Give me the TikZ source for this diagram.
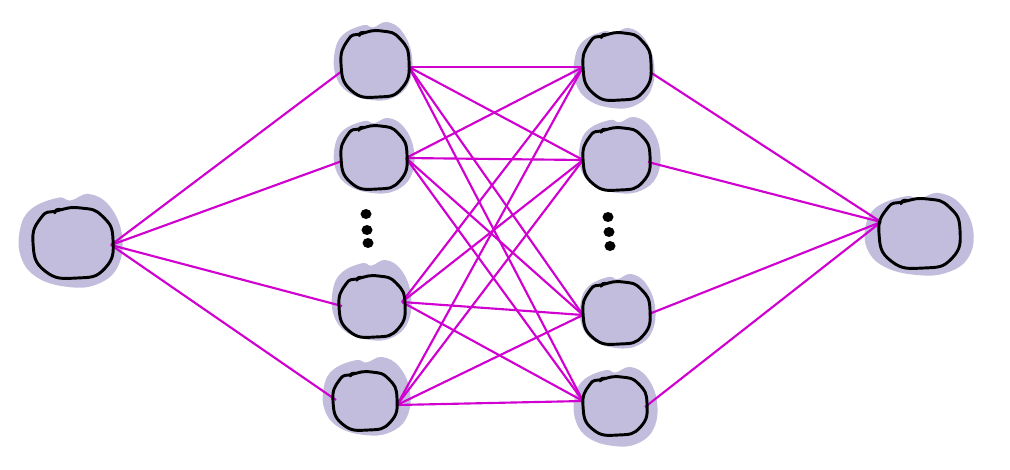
\documentclass[tikz,border=0pt]{standalone}
\definecolor{lav}{RGB}{194,189,220}
\definecolor{wire}{RGB}{208,0,208}
% soft lavender blob behind a neuron: x, y, width, height (pixels, y down)
\newcommand{\cellfill}[4]{%
  \begin{scope}[shift={(#1,#2)},xscale=#3,yscale=#4]
    \fill[lav] plot[smooth cycle,tension=0.7] coordinates
      {(0.12,0.16) (0.38,0.04) (0.5,0.07) (0.68,0.0) (0.88,0.13) (1.0,0.44)
       (0.96,0.78) (0.76,0.97) (0.48,1.0) (0.18,0.9) (0.02,0.68) (0.01,0.38)};
  \end{scope}}
% hand-drawn black rim of a neuron: x, y, width, height
\newcommand{\cellrim}[4]{%
  \begin{scope}[shift={(#1,#2)},xscale=#3,yscale=#4]
    \draw[rim] plot[smooth cycle,tension=0.9] coordinates
      {(0.3,0.04) (0.6,0.0) (0.87,0.12) (1.0,0.45) (0.9,0.86) (0.55,1.0)
       (0.15,0.9) (0.0,0.5) (0.1,0.14)};
    \draw[rim] (0.27,0.07) .. controls (0.29,0.02) .. (0.34,0.02);
  \end{scope}}
\begin{document}
\begin{tikzpicture}[x=0.75pt,y=-0.75pt,
  rim/.style={draw=black, line width=2.2pt, line cap=round, line join=round},
  link/.style={draw=wire, line width=1.6pt},
  dot/.style={fill=black}]
\useasboundingbox (0,0) rectangle (1010,469);

% blobs
\cellfill{19}{194}{103}{93}
\cellfill{334}{22}{78}{78}
\cellfill{334}{118}{80}{75}
\cellfill{332}{260}{79}{80}
\cellfill{323}{357}{87}{78}
\cellfill{574}{28}{80}{80}
\cellfill{579}{117}{81}{76}
\cellfill{580}{274}{75}{74}
\cellfill{574}{367}{83}{79}
\cellfill{865}{193}{108}{82}

% connection points on the rims
\coordinate (inp-e) at (111,245);
\coordinate (n1-w) at (342,71);  \coordinate (n1-e) at (409,67);
\coordinate (n2-w) at (342,161); \coordinate (n2-e) at (406,158);
\coordinate (n3-w) at (342,306); \coordinate (n3-e) at (402,302);
\coordinate (n4-w) at (336,400); \coordinate (n4-e) at (397,405);
\coordinate (m1-w) at (583,67);  \coordinate (m1-e) at (650,72);
\coordinate (m2-w) at (583,160); \coordinate (m2-e) at (648,162);
\coordinate (m3-w) at (583,315); \coordinate (m3-e) at (649,314);
\coordinate (m4-w) at (583,401); \coordinate (m4-e) at (645,407);
\coordinate (out-w) at (881,222);

% weights
\foreach \h in {n1,n2,n3,n4} \draw[link] (inp-e) -- (\h-w);
\foreach \a in {n1,n2,n3,n4}
  \foreach \b in {m1,m2,m3,m4} \draw[link] (\a-e) -- (\b-w);
\foreach \b in {m1,m2,m3,m4} \draw[link] (\b-e) -- (out-w);

% ellipsis dots
\fill[dot] (366,214) ellipse (5.5 and 5);
\fill[dot] (367,230) ellipse (5.5 and 5);
\fill[dot] (368,243) ellipse (5.5 and 5);
\fill[dot] (608,217) ellipse (5.5 and 5);
\fill[dot] (609,232) ellipse (5.5 and 5);
\fill[dot] (610,246) ellipse (5.5 and 5);

% rims
\cellrim{33}{208}{80}{70}
\cellrim{341}{31}{68}{66}
\cellrim{341}{126}{66}{63}
\cellrim{339}{276}{66}{61}
\cellrim{333}{372}{64}{58}
\cellrim{583}{33}{68}{67}
\cellrim{583}{128}{67}{62}
\cellrim{583}{282}{67}{62}
\cellrim{583}{377}{64}{58}
\cellrim{879}{199}{81}{69}
\end{tikzpicture}
\end{document}
